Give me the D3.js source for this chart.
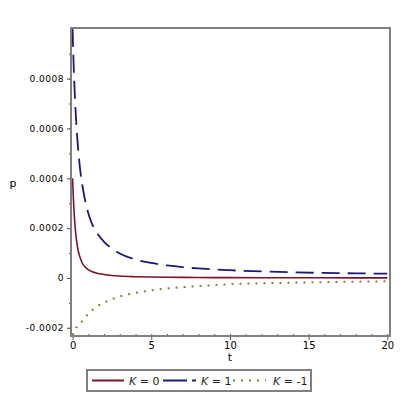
<!DOCTYPE html>
<html>
<head>
<meta charset="utf-8">
<script src="https://cdn.jsdelivr.net/npm/d3@7"></script>
<style>
body { margin: 0; background: #fff; }
svg { display: block; }
</style>
</head>
<body>
<svg id="chart" width="400" height="400"></svg>
<script>
// Data (p values in units of 1e-4)
const tValues = [0, 0.05, 0.1, 0.15, 0.2, 0.3, 0.4, 0.5, 0.6, 0.8, 1, 1.25, 1.5, 2, 2.5, 3, 4, 5, 6, 7, 8, 10, 12, 14, 16, 18, 20];
const pK0 = [4.0, 3.2, 2.6, 2.15, 1.8, 1.3, 0.98, 0.78, 0.62, 0.44, 0.33, 0.25, 0.2, 0.14, 0.1, 0.075, 0.05, 0.035, 0.027, 0.021, 0.017, 0.012, 0.009, 0.007, 0.0055, 0.0045, 0.004];
const pK1 = [10.0, 8.9, 8.0, 7.25, 6.6, 5.6, 4.85, 4.25, 3.8, 3.1, 2.6, 2.15, 1.85, 1.45, 1.18, 0.98, 0.74, 0.6, 0.5, 0.43, 0.38, 0.31, 0.26, 0.225, 0.2, 0.185, 0.17];
const pKm1 = [-2.3, -2.2, -2.13, -2.06, -2.0, -1.97, -1.9, -1.82, -1.74, -1.58, -1.44, -1.29, -1.17, -0.99, -0.85, -0.74, -0.6, -0.5, -0.42, -0.37, -0.33, -0.25, -0.215, -0.19, -0.17, -0.15, -0.136];
const xTicks = [0, 5, 10, 15, 20];
const yTicks = [-0.0002, 0, 0.0002, 0.0004, 0.0006, 0.0008];
const yTickLabels = ["-0.0002", "0", "0.0002", "0.0004", "0.0006", "0.0008"];
const seriesNames = ["K = 0", "K = 1", "K = -1"];
const seriesColors = ["#7b1428", "#1a1a78", "#8a7c3c"];

const svg = d3.select("#chart");
const mLeft = 71, mRight = 390, mTop = 28, mBottom = 336;

const x = d3.scaleLinear().domain([-0.1, 20.17]).range([mLeft, mRight]);
const y = d3.scaleLinear().domain([-0.000233, 0.001003]).range([mBottom, mTop]);

svg.append("clipPath").attr("id", "clip")
  .append("rect").attr("x", mLeft).attr("y", mTop).attr("width", mRight - mLeft).attr("height", mBottom - mTop);

const font = "DejaVu Sans, sans-serif";

// Axes
const yAxis = d3.axisLeft(y).tickValues(yTicks).tickFormat((d, i) => yTickLabels[i]).tickSize(4).tickPadding(3);
const yMinor = d3.axisLeft(y).tickValues(d3.range(-0.0002, 0.00095, 0.0001)).tickFormat("").tickSize(2);
const xAxis = d3.axisBottom(x).tickValues(xTicks).tickSize(3).tickPadding(3);
const xMinor = d3.axisBottom(x).tickValues(d3.range(0, 21, 1)).tickFormat("").tickSize(-2);

function styleAxis(g) {
  g.select(".domain").remove();
  g.selectAll("line").attr("stroke", "#555").attr("stroke-width", 1);
  g.selectAll("text").attr("font-family", font).attr("font-size", 9).attr("fill", "#000");
}

svg.append("g").attr("transform", `translate(${mLeft},0)`).call(yMinor).call(styleAxis);
svg.append("g").attr("transform", `translate(${mLeft},0)`).call(yAxis).call(styleAxis)
  .call(g => g.selectAll("text").attr("letter-spacing", 0.5));
svg.append("g").attr("transform", `translate(0,${mBottom})`).call(xMinor).call(styleAxis);
svg.append("g").attr("transform", `translate(0,${mBottom})`).call(xAxis).call(g => {
  styleAxis(g);
  g.selectAll("line").attr("transform", "translate(0,1)");
  g.selectAll("text").attr("font-size", 10);
});

// Curves
const allSeries = [pK0, pK1, pKm1];
const dashes = [null, "18,8", "2,6"];
const widths = [1.6, 1.8, 2];
const line = d3.line().x(d => x(d[0])).y(d => y(d[1] * 1e-4)).curve(d3.curveMonotoneX);
const plot = svg.append("g").attr("clip-path", "url(#clip)");
allSeries.forEach((vals, i) => {
  plot.append("path")
    .datum(tValues.map((t, j) => [t, vals[j]]))
    .attr("d", line)
    .attr("fill", "none")
    .attr("stroke", seriesColors[i])
    .attr("stroke-width", widths[i])
    .attr("stroke-dasharray", dashes[i]);
});

// Frame
svg.append("rect").attr("x", mLeft).attr("y", mTop).attr("width", mRight - mLeft).attr("height", mBottom - mTop)
  .attr("fill", "none").attr("stroke", "#808080").attr("stroke-width", 2);

// Axis titles
svg.append("text").attr("x", 13).attr("y", 187).attr("text-anchor", "middle")
  .attr("font-family", font).attr("font-size", 11).text("p");
svg.append("text").attr("x", 230).attr("y", 361).attr("text-anchor", "middle")
  .attr("font-family", font).attr("font-size", 11).text("t");

// Legend
const legend = svg.append("g");
legend.append("rect").attr("x", 87).attr("y", 370).attr("width", 224).attr("height", 21)
  .attr("fill", "#fff").attr("stroke", "#808080").attr("stroke-width", 2);
const legendItems = [
  { x1: 92, x2: 124, tx: 129 },
  { x1: 163, x2: 196, tx: 201 },
  { x1: 233, x2: 266, tx: 273 }
];
legendItems.forEach((it, i) => {
  legend.append("line").attr("x1", it.x1).attr("x2", it.x2).attr("y1", 380.5).attr("y2", 380.5)
    .attr("stroke", seriesColors[i]).attr("stroke-width", 2)
    .attr("stroke-dasharray", i === 1 ? "24,5" : (i === 2 ? "2,6" : null));
  const parts = seriesNames[i].split(" ");
  const t = legend.append("text").attr("x", it.tx).attr("y", 385)
    .attr("font-family", font).attr("font-size", 11).attr("fill", "#222");
  t.append("tspan").attr("font-style", "italic").text(parts[0]);
  t.append("tspan").text(" " + parts.slice(1).join(" "));
});
</script>
</body>
</html>
